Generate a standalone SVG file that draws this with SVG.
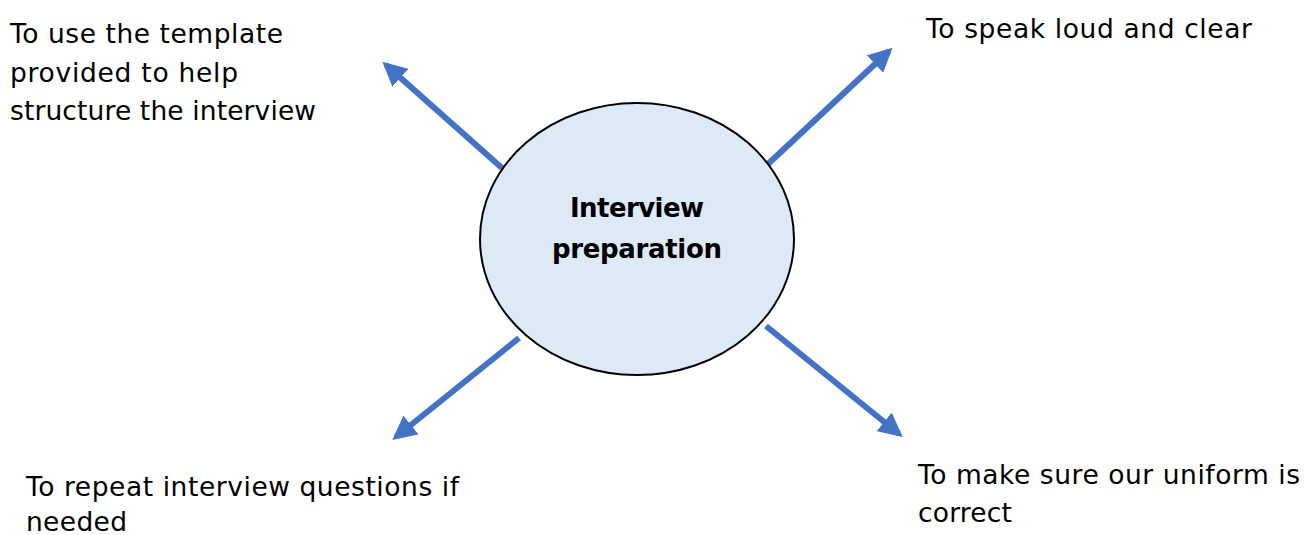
<svg xmlns="http://www.w3.org/2000/svg" width="1304" height="535" viewBox="0 0 1304 535">
<style>
.t{font-family:"DejaVu Sans","Liberation Sans",sans-serif;font-size:26.5px;fill:#000}
.c{font-family:"DejaVu Sans","Liberation Sans",sans-serif;font-size:26px;font-weight:bold;fill:#000;text-anchor:middle}
.a{stroke:#4472C4;stroke-width:6;fill:none;marker-end:url(#ah)}
</style>
<defs>
<marker id="ah" viewBox="0 0 10 10" refX="8" refY="5" markerWidth="4" markerHeight="4" orient="auto" markerUnits="strokeWidth">
<path d="M0,0 L10,5 L0,10 z" fill="#4472C4"/>
</marker>
</defs>
<rect width="1304" height="535" fill="#fff"/>
<g id="connectors">
<line class="a" x1="502" y1="168" x2="386" y2="65"/>
<line class="a" x1="768" y1="164" x2="889" y2="51"/>
<line class="a" x1="519" y1="338" x2="396" y2="437"/>
<line class="a" x1="766" y1="326" x2="899" y2="434"/>
</g>
<g id="center">
<ellipse cx="637" cy="239" rx="157" ry="136" fill="#DEE9F6" stroke="#000" stroke-width="2"/>
<text class="c" x="637" y="217" textLength="134">Interview</text>
<text class="c" x="637" y="258" textLength="170">preparation</text>
</g>
<g id="n-template">
<text class="t" x="10" y="43" textLength="273">To use the template</text>
<text class="t" x="10" y="82" textLength="228">provided to help</text>
<text class="t" x="10" y="120" textLength="306">structure the interview</text>
</g>
<g id="n-speak">
<text class="t" x="926" y="38" textLength="326">To speak loud and clear</text>
</g>
<g id="n-repeat">
<text class="t" x="26" y="496" textLength="433">To repeat interview questions if</text>
<text class="t" x="26" y="531" textLength="101">needed</text>
</g>
<g id="n-uniform">
<text class="t" x="918" y="484" textLength="382">To make sure our uniform is</text>
<text class="t" x="918" y="522" textLength="94">correct</text>
</g>
</svg>
